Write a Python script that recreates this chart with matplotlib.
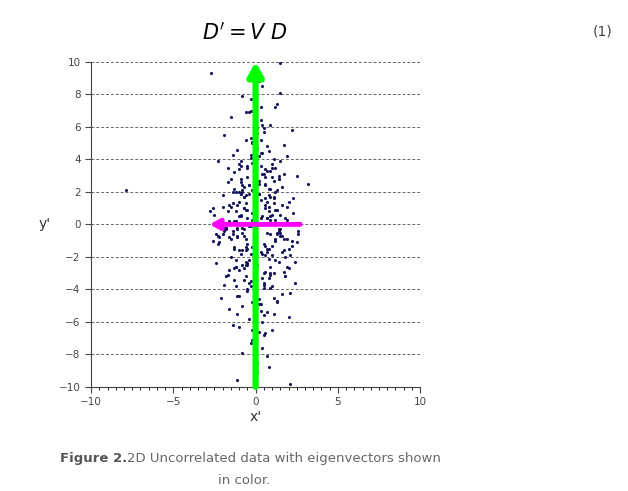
import matplotlib.pyplot as plt
from matplotlib.ticker import MultipleLocator
from matplotlib.transforms import offset_copy

# points read (approximately) off the scatter cloud
pts_x = [
    -2.7, 1.5, -7.9, 2.1, 3.2, -0.8, 0.4, 1.2, -1.5, 0.9, -0.3, 2.2, -1.9, 0.1, 1.7,
    -0.6, -1.1, 0.7, 1.9, -2.3, 0.3, -0.2, 1.0, -1.3, 2.5, -0.9, 0.5, 1.4, -1.7, 0.0,
    -0.4, 0.8, -1.0, 1.6, -2.0, 0.2, 1.1, -0.7, 2.0, -1.4, 0.6, -0.1, 1.3, -1.2, 2.3,
    -2.5, 0.4, -0.5, 0.9, -1.6, 1.8, -0.3, 0.2, -0.8, 1.5, -1.9, 0.7, 2.6, -1.1, 0.0,
    -0.6, 1.2, -2.2, 0.5, 1.0, -0.2, -1.3, 1.7, 0.3, -0.9, 2.1, -1.5, 0.8, -0.4, 1.4,
    -2.4, 0.1, 1.9, -0.7, -1.0, 0.6, 1.1, -1.8, 0.4, -0.3, 2.4, -1.2, 0.9, -0.5, 1.6,
    -2.1, 0.2, 1.3, -0.8, -1.6, 0.7, 2.0, -0.1, -1.4, 1.0, 0.5, -2.6, 1.8, -0.6, 0.3,
    -1.1, 1.5, -0.2, 2.2, -1.7, 0.8, -0.9, 1.2, -0.4, 0.0, -2.0, 1.7, 0.6, -1.3, 2.7,
    -0.7, 1.1, -1.5, 0.4, 1.9, -0.3, -2.3, 0.9, -1.0, 1.4, 0.2, -0.5, 2.3, -1.8, 0.7,
    -1.2, 1.6, -0.1, 0.5, -2.8, 1.0, -0.8, 1.3, -1.4, 0.3, 2.5, -0.6, 0.8, -1.9, 1.8,
    -0.2, -1.1, 1.2, 0.1, -1.6, 2.0, -0.4, 0.6, -2.2, 1.5, -0.9, 0.4, 1.1, -1.3, 0.0,
    -0.5, 1.7, -1.7, 0.9, 2.2, -0.7, -2.4, 1.3, 0.2, -1.0, 1.9, -0.3, 0.7, -1.5, 1.0,
    -0.8, 2.4, -2.0, 0.5, -0.1, 1.4, -1.2, 0.3, -0.6, 1.6, -1.8, 0.8, -0.4, 2.1, -2.6,
    0.1, 1.2, -1.4, 0.6, -0.9, 1.8, -0.2, -1.1, 0.9, 2.6, -1.6, 0.4, -0.5, 1.5, -2.1,
    0.0, 1.1, -0.7, -1.3, 2.0, 0.7, -0.3, -1.9, 1.3, 0.2, -1.0, 1.7, -0.6, 0.5, -2.3,
    # second batch, dense core
    -0.2, 0.3, -0.5, 0.6, -0.8, 0.9, -1.1, 1.2, -0.1, 0.4, -0.6, 0.7, -0.9, 1.0, -1.2,
    0.2, -0.3, 0.5, -0.7, 0.8, -1.0, 1.1, -0.4, 0.1, -0.5, 0.6, -0.8, 0.9, -1.3, 1.3,
    -0.2, 0.3, -0.6, 0.7, -0.9, 1.0, -1.1, 1.4, -0.3, 0.2, -0.4, 0.5, -0.7, 0.8, -1.2,
    0.1, -0.1, 0.4, -0.5, 0.6, -0.8, 0.9, -1.0, 1.2, -0.2, 0.3, -0.6, 0.7, -1.4, 1.5,
    -0.3, 0.2, -0.5, 0.5, -0.7, 0.8, -0.9, 1.1, -1.1, 0.0, -0.4, 0.4, -0.6, 0.6, -1.5,
    1.6, -1.7, 1.8, -0.1, 0.1, -0.8, 0.9, -1.2, 1.3, -0.2, 0.3, -0.5, 0.6, -1.0, 1.0,
    -0.7, 0.7, -1.3, 1.4, -0.4, 0.5, -0.9, 1.2, -1.6, 1.7, -0.3, 0.4, -0.6, 0.8, -1.1,
    1.1, -0.2, 0.2, -0.8, 0.6, -1.4, 1.5, -0.5, 0.3, -1.0, 0.9, -1.8, 1.9, -0.1, 0.1,
]
pts_y = [
    9.3, 9.9, 2.1, -9.8, 2.5, 7.9, 8.5, 7.2, 6.6, 6.1, 7.0, 5.8, 5.5, 5.9, 4.9,
    5.2, 4.6, 4.8, 4.2, 3.9, 4.4, 3.8, 3.5, 3.2, 3.0, 3.6, 3.1, 2.8, 2.6, 2.9,
    2.4, 2.2, 2.0, 2.3, 1.8, 1.9, 1.6, 1.7, 1.4, 1.3, 1.2, 1.1, 0.9, 0.8, 0.7,
    0.6, 0.5, 0.4, 0.3, 0.2, 0.1, -0.1, 0.0, -0.2, -0.3, -0.4, -0.5, -0.6, -0.7, -0.8,
    -0.9, -1.0, -1.1, -1.2, -1.3, -1.4, -1.5, -1.6, -1.7, -1.8, -1.9, -2.0, -2.1, -2.2, -2.3,
    -2.4, -2.5, -2.6, -2.7, -2.8, -2.9, -3.0, -3.2, -3.3, -3.5, -3.6, -3.8, -3.9, -4.1, -4.3,
    -4.5, -4.6, -4.8, -5.0, -5.2, -5.4, -5.7, -5.9, -6.2, -6.5, -6.8, 1.0, 0.4, 0.9, 1.5,
    -0.3, 0.6, 2.1, -1.0, 0.8, -1.5, 2.6, -2.2, 1.9, 4.0, -0.6, -2.9, 3.4, 0.2, 0.1,
    -3.4, 2.7, -0.9, -1.8, 1.1, 5.3, -1.2, -3.1, 0.5, -0.4, 2.5, -4.0, 1.6, -0.2, 3.3,
    -2.6, -0.7, 1.3, -5.6, 0.8, 3.7, -1.6, -0.5, 2.0, 6.4, -1.1, 1.8, 4.5, -3.7, -2.0,
    0.7, -4.4, 0.3, 5.6, 1.2, -2.7, -0.1, 2.9, -0.8, 3.9, 0.6, -6.0, 1.7, -1.4, 4.7,
    -2.4, 0.0, 3.5, -3.0, -1.3, 2.3, -0.6, 7.4, -4.9, 1.4, -0.9, -7.3, 0.4, 2.8, -1.9,
    -7.9, -2.3, 1.1, -3.6, -8.4, 3.0, 0.2, -5.3, 6.9, -1.7, -0.3, -8.8, 2.4, -4.2, -1.0,
    -9.1, 0.9, 4.3, -6.7, 1.9, -3.2, 5.0, -9.6, 0.5, -0.4, -2.8, -7.6, 3.6, 8.1, 0.3,
    6.3, -5.5, 1.0, 2.2, -1.5, -8.1, 7.7, -0.2, -4.7, 8.8, -6.3, 3.1, -2.5, 5.7, -0.7,
    # second batch
    0.3, 0.4, -1.2, -1.3, 2.1, 2.2, -0.8, -0.9, 3.0, 3.1, -1.6, -1.7, 0.5, 0.6, -2.6,
    2.7, -3.8, -3.9, 1.0, 1.1, -4.4, -4.5, 0.1, 2.4, -2.5, -1.9, 2.0, 3.3, -3.4, -0.6,
    5.1, 5.2, -1.4, -1.5, 2.8, 2.9, -0.2, -0.3, 4.1, 4.2, -3.6, -3.7, 1.7, 1.8, -2.2,
    0.1, -6.0, 6.1, 0.9, 1.0, -2.5, -2.6, 3.4, 3.5, -4.8, -4.9, 1.3, 1.4, -0.4, -0.5,
    -1.8, 1.9, 2.9, -3.0, -0.7, 0.8, 3.9, 4.0, -5.5, 6.8, 6.9, 0.0, -2.3, 2.4, 1.1,
    1.2, -3.1, -3.2, 4.6, 4.7, -0.5, -0.6, 2.0, 2.1, -7.1, 7.2, -1.5, 1.6, 3.7, -3.8,
    -0.3, 0.4, -2.7, 2.8, -5.8, 5.9, 1.9, 2.0, -0.8, -0.9, 4.3, 4.4, -3.2, -3.3, 1.2,
    1.3, -6.5, -6.6, 2.4, 2.5, -0.6, -0.7, 3.5, 3.6, -1.6, 1.7, -0.2, 0.3, 8.3, -8.5,
]

fig = plt.figure(figsize=(6.28, 4.91), dpi=100)
ax = fig.add_axes([0.145, 0.212, 0.524, 0.662])

ax.scatter(pts_x, pts_y, s=5, color='#14145a', linewidths=0, zorder=2)
ax.annotate('', xy=(0, 10), xytext=(0, -10),
            arrowprops=dict(arrowstyle='-|>,head_width=0.45,head_length=0.8',
                            color='#00ff00', lw=4.5, shrinkA=0, shrinkB=0), zorder=3)
ax.annotate('', xy=(-2.8, 0), xytext=(2.7, 0),
            arrowprops=dict(arrowstyle='-|>,head_width=0.3,head_length=0.55',
                            color='#ff00ff', lw=3.5, shrinkA=0, shrinkB=0), zorder=4)

ax.set_xlim(-10, 10)
ax.set_ylim(-10, 10)
ax.xaxis.set_major_locator(MultipleLocator(5))
ax.xaxis.set_minor_locator(MultipleLocator(0.5))
ax.yaxis.set_major_locator(MultipleLocator(2))
ax.yaxis.grid(True, linestyle=(0, (3, 2)), color='#666666', lw=0.7)
for s in ['top', 'right']:
    ax.spines[s].set_visible(False)
for s in ['left', 'bottom']:
    ax.spines[s].set_color('#444444')
ax.tick_params(labelsize=7.5, colors='#444444', length=4)
ax.tick_params(which='minor', length=2.5)
ax.set_xlabel("x'", fontsize=10, color='#333333', labelpad=2)
ax.set_ylabel("y'", fontsize=10, color='#333333', rotation=0, labelpad=10, va='center')

fig.text(0.39, 0.935, r"$D' = V\ D$", fontsize=15, ha='center', va='center')
fig.text(0.975, 0.935, "(1)", fontsize=10, ha='right', va='center', color='#444444')

t1 = fig.text(0.095, 0.067, "Figure 2.", fontsize=9.5, ha='left', va='center',
              color='#555555', fontweight='bold')
fig.canvas.draw()
w = t1.get_window_extent().width
fig.text(0.095, 0.067, "2D Uncorrelated data with eigenvectors shown", fontsize=9.5,
         ha='left', va='center', color='#666666',
         transform=offset_copy(fig.transFigure, fig=fig, x=w, y=0, units='dots'))
fig.text(0.388, 0.022, "in color.", fontsize=9.5, ha='center', va='center', color='#666666')

fig.savefig('out.png', dpi=100)
